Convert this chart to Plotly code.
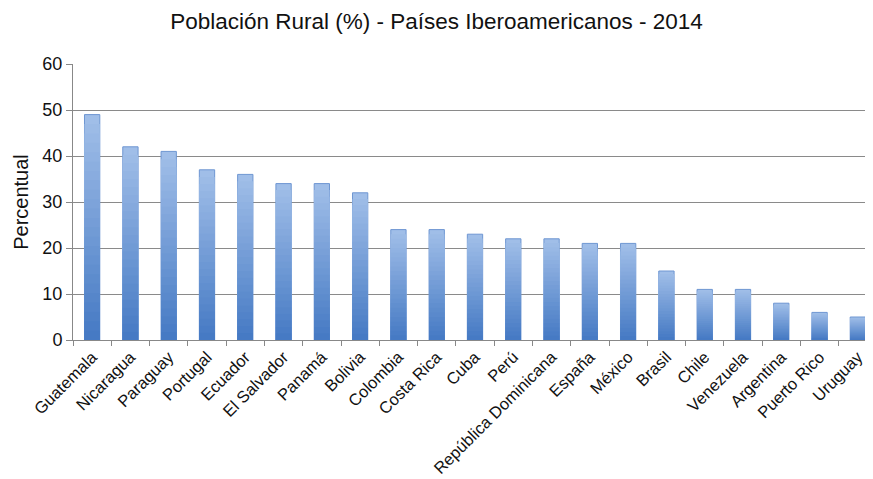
import plotly.graph_objects as go

paises = ["Guatemala", "Nicaragua", "Paraguay", "Portugal", "Ecuador", "El Salvador",
          "Panamá", "Bolivia", "Colombia", "Costa Rica", "Cuba", "Perú",
          "República Dominicana", "España", "México", "Brasil", "Chile", "Venezuela",
          "Argentina", "Puerto Rico", "Uruguay"]
poblacion_rural = [49, 42, 41, 37, 36, 34, 34, 32, 24, 24, 23, 22, 22, 21, 21, 15, 11, 11, 8, 6, 5]
y_ticks = [0, 10, 20, 30, 40, 50, 60]

top_rgb = (160, 190, 232)
bot_rgb = (70, 122, 196)
steps = 24

fig = go.Figure()
for k in range(steps):
    f = 1 - k / steps
    t = k / (steps - 1)
    c = tuple(round(top_rgb[i] + (bot_rgb[i] - top_rgb[i]) * t) for i in range(3))
    fig.add_trace(go.Bar(
        x=paises, y=[v * f for v in poblacion_rural],
        marker=dict(color="rgb(%d,%d,%d)" % c,
                    line=dict(width=1, color="rgb(110,150,210)") if k == 0 else dict(width=0)),
        hoverinfo="skip" if k else None, showlegend=False,
    ))

fig.update_layout(
    barmode="overlay", bargap=0.6,
    width=873, height=479,
    margin=dict(l=65, r=4, t=56, b=147, autoexpand=False),
    paper_bgcolor="white", plot_bgcolor="white",
    font=dict(family="Liberation Sans, Arial, sans-serif", color="#111"),
    title=dict(text="Población Rural (%) - Países Iberoamericanos - 2014",
               xref="container", x=(436.5 - 8) / 873, xanchor="center",
               y=1 - 13 / 479, yanchor="middle",
               font=dict(size=22.5, color="#111")),
)
fig.update_xaxes(
    tickangle=-45, tickfont=dict(size=16.5, color="#111"),
    ticks="outside", tickson="boundaries", ticklen=5, tickcolor="#888",
    showline=True, linecolor="#888", linewidth=1, showgrid=False,
)
fig.update_yaxes(
    range=[0, 60], tickvals=y_ticks, tickfont=dict(size=18, color="#111"),
    ticks="outside", ticklen=6, tickcolor="#888",
    showgrid=True, gridcolor="#8a8a8a", gridwidth=1,
    showline=True, linecolor="#888", linewidth=1, zeroline=False,
    title=dict(text="Percentual", font=dict(size=20, color="#111"), standoff=8),
)
fig.write_html("out.html")
